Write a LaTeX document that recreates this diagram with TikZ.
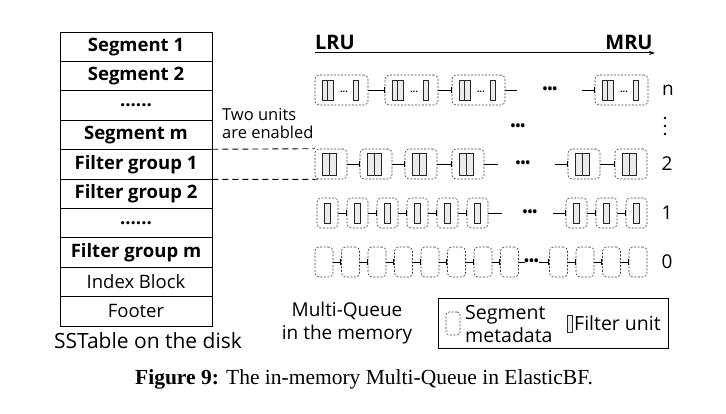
\documentclass[tikz,border=0pt]{standalone}
\usepackage{fontspec}
\setmainfont{Open Sans}
\newfontfamily\capfont{Liberation Serif}
\usetikzlibrary{arrows.meta}
\begin{document}
\begin{tikzpicture}[x=1pt,y=-1pt,
  tb/.style={draw, line width=0.7pt, minimum width=152pt, minimum height=29.4pt, inner sep=0pt, font=\fontsize{18.5}{20}\selectfont},
  seg/.style={draw=black!75, dash pattern=on 2pt off 1.5pt, rounded corners=4pt, line width=0.6pt, minimum height=30pt, inner sep=0pt},
  fu/.style={draw=black!85, fill=black!8, line width=0.7pt, minimum width=5.5pt, minimum height=20pt, inner sep=0pt},
  conn/.style={line width=0.9pt, -{Bar[width=6pt,line width=0.9pt]}},
  plain/.style={line width=0.9pt},
  dots/.style={font=\fontsize{13}{13}\selectfont\bfseries, inner sep=0pt},
  vdot/.style={circle, fill, inner sep=0pt, minimum size=2.6pt},
  lbl/.style={font=\fontsize{19}{19}\selectfont, inner sep=0pt},
  txt/.style={font=\fontsize{19}{21}\selectfont, inner sep=0pt},
  link/.style={dashed, dash pattern=on 6pt off 4pt, line width=0.9pt}]
\useasboundingbox (0,0) rectangle (726,414);

% SSTable
\foreach \i/\t in {1/\textbf{Segment 1},2/\textbf{Segment 2},3/\textbf{......},4/\textbf{Segment m},5/\textbf{Filter group 1},6/\textbf{Filter group 2},7/\textbf{......},8/\textbf{Filter group m},9/Index Block,10/Footer}
  \node[tb] (t\i) at (136, 32+29.4*\i-14.7) {\t};
\node[txt, font=\fontsize{21}{22}\selectfont] (sst) at (148,341) {SSTable on the disk};

% LRU -> MRU
\node[lbl, font=\fontsize{20}{20}\selectfont\bfseries] (lru) at (335,42) {LRU};
\node[lbl, font=\fontsize{20}{20}\selectfont\bfseries] (mru) at (629,42) {MRU};
\coordinate (a1) at (315,53);
\coordinate (a2) at (655,53);
\draw[line width=1pt, -{Stealth[length=6pt,width=4pt]}] (a1) -- (a2);

% Row n
\foreach \k/\x in {1/315,2/385,3/452,4/595} {
  \node[seg, minimum width=53pt] (n\k) at (\x+26.5,90) {};
  \node[fu] (n\k a) at (\x+9.75,90) {};
  \node[fu] (n\k b) at (\x+15.25,90) {};
  \node[font=\fontsize{9}{9}\selectfont\bfseries, inner sep=0pt] (n\k d) at (\x+29,92) {...};
  \node[fu] (n\k c) at (\x+40.75,90) {};
}
\draw[conn] (n1.east) -- (n2.west);
\draw[conn] (n2.east) -- (n3.west);
\coordinate (ne) at (517,90);
\draw[plain] (n3.east) -- (ne);
\node[dots] (nd) at (550,90) {•••};
\coordinate (ns) at (582,90);
\draw[conn] (ns) -- (n4.west);
\node[lbl] (nl) at (668,90) {n};

% middle dots
\node[dots] (md) at (518,127) {•••};
\node[vdot] (vd1) at (665,118) {};
\node[vdot] (vd2) at (665,126) {};
\node[vdot] (vd3) at (665,134) {};

% Row 2
\foreach \k/\x in {1/315,2/360,3/405,4/452,5/568,6/615} {
  \node[seg, minimum width=32pt] (b\k) at (\x+16,164) {};
  \node[fu, minimum width=7pt, minimum height=22pt] (b\k a) at (\x+10.5,164) {};
  \node[fu, minimum width=7pt, minimum height=22pt] (b\k b) at (\x+17.5,164) {};
}
\foreach \a/\b in {1/2,2/3,3/4,5/6} \draw[conn] (b\a.east) -- (b\b.west);
\coordinate (be) at (498,164);
\draw[plain] (b4.east) -- (be);
\node[dots] (bd) at (523,164) {•••};
\coordinate (bs) at (555,164);
\draw[conn] (bs) -- (b5.west);
\node[lbl] (bl) at (667,164) {2};

% dashed links
\draw[link] (t5.north east) -- (b1.north west);
\draw[link] (t5.south east) -- ([xshift=3pt]b1.south west);
\node[txt, align=left, anchor=west, font=\fontsize{16.5}{18}\selectfont] (two) at (222,124) {Two units\\are enabled};

% Row 1
\foreach \k/\x in {1/317,2/347,3/377,4/407,5/437,6/467,7/566,8/596,9/626} {
  \node[seg, minimum width=21pt] (c\k) at (\x+10.5,213) {};
  \node[fu, minimum width=6pt] (c\k a) at (\x+10.5,213) {};
}
\foreach \a/\b in {1/2,2/3,3/4,4/5,5/6,7/8,8/9} \draw[conn] (c\a.east) -- (c\b.west);
\coordinate (ce) at (502,213);
\draw[plain] (c6.east) -- (ce);
\node[dots] (cd) at (530,213) {•••};
\coordinate (cs) at (553,213);
\draw[conn] (cs) -- (c7.west);
\node[lbl] (cl) at (667,213) {1};

% Row 0
\foreach \k/\x in {1/315,2/341.5,3/368,4/394.5,5/421,6/447.5,7/474,8/500.5,9/549.5,10/576,11/602.5,12/629} {
  \node[seg, minimum width=18pt] (z\k) at (\x+9,262) {};
}
\foreach \a/\b in {1/2,2/3,3/4,4/5,5/6,6/7,7/8,9/10,10/11,11/12} \draw[conn] (z\a.east) -- (z\b.west);
\coordinate (ze) at (525,262);
\draw[plain] (z8.east) -- (ze);
\node[dots] (zd) at (531.5,262) {•••};
\coordinate (zs) at (539,262);
\draw[conn] (zs) -- (z9.west);
\node[lbl] (zl) at (667,262) {0};

% bottom labels
\node[txt, align=center, font=\fontsize{19}{23}\selectfont] (mq) at (347,323) {Multi-Queue\\in the memory};
\node[draw, line width=0.9pt, minimum width=230pt, minimum height=50pt, inner sep=0pt] (leg) at (553,323) {};
\node[seg, minimum width=14pt, minimum height=23pt, rounded corners=3pt] (lseg) at (453,323.5) {};
\node[txt, align=left, anchor=west, font=\fontsize{19.5}{23}\selectfont] (lsegt) at (465,324) {Segment\\metadata};
\node[fu, minimum width=5pt, minimum height=17pt] (lfu) at (569.5,323.5) {};
\node[txt, anchor=west, font=\fontsize{19.5}{21}\selectfont] (lfut) at (574,323) {Filter unit};

% caption
\node[inner sep=0pt, font=\capfont\fontsize{21.5}{23}\selectfont] (cap) at (364,379) {\textbf{Figure 9:} The in-memory Multi-Queue in ElasticBF.};
\end{tikzpicture}
\end{document}
